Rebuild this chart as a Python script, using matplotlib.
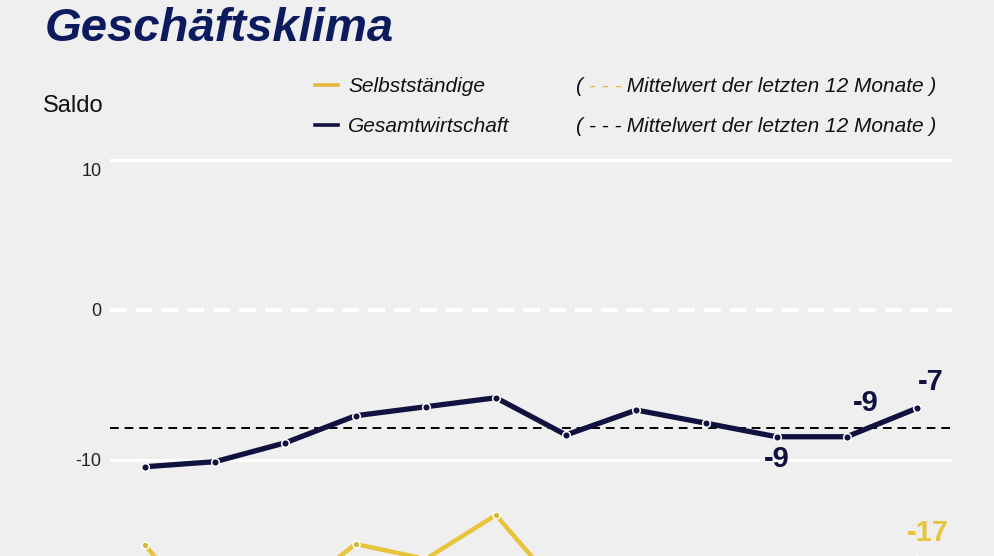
import matplotlib
matplotlib.use('agg')
import matplotlib.pyplot as plt
from matplotlib.lines import Line2D
from matplotlib.text import Annotation
from matplotlib.transforms import ScaledTranslation
import numpy as np

plt.rcParams['font.family'] = ['Liberation Sans', 'DejaVu Sans']

# Saldo, letzte 12 Monate
months = list(range(12))
gesamt = [-10.45, -10.11, -8.85, -7.05, -6.45, -5.85, -8.33, -6.67, -7.55, -8.45, -8.45, -6.55]
selbst = [-15.67, -21.3, -19.3, -15.6, -16.6, -13.67, -19.1, -18.0, -20.0, -21.0, -19.0, -16.6]
yticks = [10, 0, -10]
# (Index, Reihe, Text, Versatz in pt)
labels = [(9, 'g', '-9', (0, -16)), (10, 'g', '-9', (14, 24)),
          (11, 'g', '-7', (10, 19)), (11, 's', '-17', (8, 19))]

navy = '#10113f'
gold = '#e8c43c'
titleblue = '#0c1b5e'
bg = '#efefef'

W, H = 995, 556
def fx(x):
    return x / W
def fy(y):
    return 1 - y / H

fig = plt.figure(figsize=(W / 100, H / 100), dpi=100)
fig.patch.set_facecolor(bg)

ymin, ymax = -26, 10.5
pxu = 15.0
top = fy(310 - ymax * pxu)
height = (ymax - ymin) * pxu / H
ax = fig.add_axes([fx(110), top - height, fx(842), height])
ax.set_facecolor(bg)
ax.set_xlim(-0.5, 11.5)
ax.set_ylim(ymin, ymax)
for s in ax.spines.values():
    s.set_visible(False)
ax.set_xticks([])
ax.set_yticks(yticks)
ax.set_yticklabels([str(t) for t in yticks], fontsize=13, color='#222222')
ax.tick_params(axis='y', length=0, pad=6)
# die "10" sitzt im Original etwas unter der Linie
lab = ax.get_yticklabels()[0]
lab.set_transform(lab.get_transform() + ScaledTranslation(0, -0.09, fig.dpi_scale_trans))

for t in yticks:
    if t == 0:
        ax.axhline(t, color='white', lw=3, ls=(0, (4, 2.2)), zorder=1)
    else:
        ax.axhline(t, color='white', lw=2.3, zorder=1)

ax.axhline(np.mean(gesamt), color='black', lw=1.4, ls=(0, (4.5, 3)), zorder=2)
ax.axhline(np.mean(selbst), color=gold, lw=1.4, ls=(0, (4.5, 3)), zorder=2)

ax.plot(months, selbst, color=gold, lw=3.2, zorder=3,
        marker='o', ms=5, mfc='#d4b838', mec='white', mew=1.1)
ax.plot(months, gesamt, color=navy, lw=3.8, zorder=4,
        marker='o', ms=5.5, mfc=navy, mec='white', mew=1.1)

for i, r, txt, off in labels:
    vals = gesamt if r == 'g' else selbst
    col = navy if r == 'g' else gold
    ax.annotate(txt, (months[i], vals[i]), xytext=off, textcoords='offset points',
                ha='center', va='center', fontsize=21, fontweight='bold', color=col)

# Titel und Achsenbeschriftung
fig.text(fx(45), fy(41), 'Geschäftsklima', fontsize=34, fontweight='bold',
         fontstyle='italic', color=titleblue, va='baseline', ha='left')
fig.text(fx(43), fy(106), 'Saldo', fontsize=17, color='#111111', va='center', ha='left')

# Legende
fs = 15
for yy, col, name, dcol in [(85, '#e6b840', 'Selbstständige', '#e6b840'),
                            (125, navy, 'Gesamtwirtschaft', 'black')]:
    fig.add_artist(Line2D([fx(315), fx(338)], [fy(yy), fy(yy)], color=col, lw=2.6,
                          transform=fig.transFigure))
    fig.text(fx(348), fy(yy + 1), name, fontsize=fs, fontstyle='italic',
             color='#111111', va='center', ha='left')
    t1 = fig.text(fx(576), fy(yy + 2), '( ', fontsize=fs, fontstyle='italic',
                  color='#111111', va='center', ha='left')
    a2 = fig.add_artist(Annotation('- - -', xy=(1, 0), xycoords=t1, va='bottom', ha='left',
                                   fontsize=fs, fontstyle='italic', color=dcol))
    fig.add_artist(Annotation(' Mittelwert der letzten 12 Monate )', xy=(1, 0),
                              xycoords=a2, va='bottom', ha='left', fontsize=fs,
                              fontstyle='italic', color='#111111'))

fig.savefig('out.png', dpi=100, facecolor=bg)
